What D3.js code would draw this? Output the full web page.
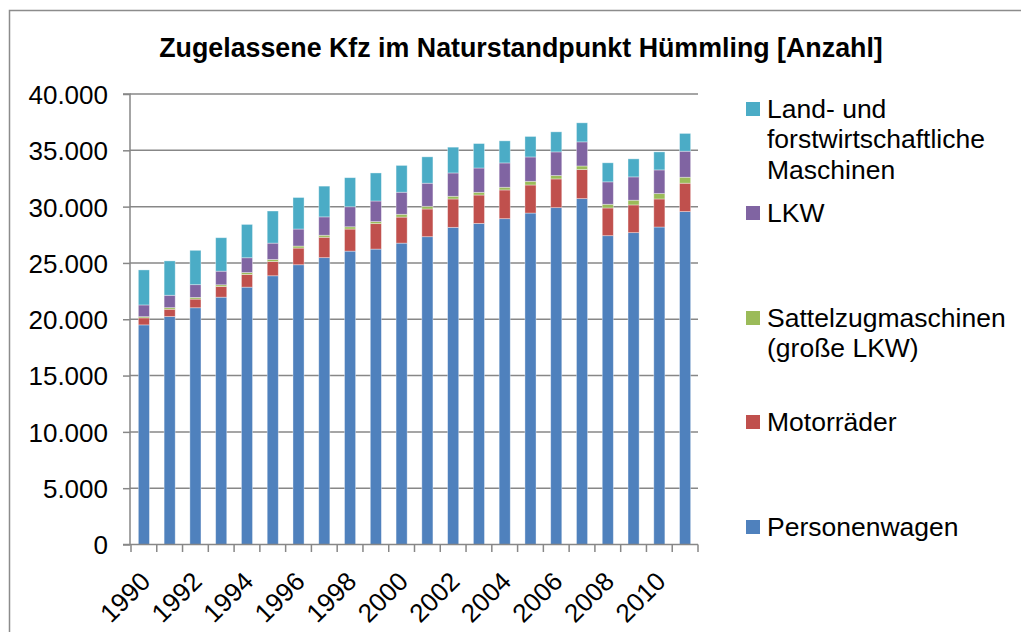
<!DOCTYPE html>
<html>
<head>
<meta charset="utf-8">
<script src="https://cdn.jsdelivr.net/npm/d3@7"></script>
<style>
  body { margin: 0; background: #fff; }
  text { font-family: "Liberation Sans", Arial, sans-serif; fill: #000; }
</style>
</head>
<body>
<svg id="chart"></svg>
<script>
var width = 1021, height = 632;

// data
var years = d3.range(1990, 2012).map(String);
var pkw    = [19500, 20240, 21020, 21960, 22850, 23860, 24840, 25470, 26050, 26230, 26760, 27330, 28160, 28510, 28930, 29430, 29910, 30710, 27420, 27690, 28190, 29560];
var motor  = [620, 650, 770, 950, 1130, 1270, 1480, 1810, 1960, 2260, 2310, 2460, 2520, 2520, 2550, 2490, 2550, 2580, 2460, 2460, 2490, 2520];
var sattel = [110, 140, 150, 150, 170, 180, 180, 180, 200, 180, 250, 240, 240, 240, 240, 330, 300, 320, 330, 420, 480, 530];
var lkw    = [1040, 1100, 1130, 1210, 1310, 1450, 1510, 1630, 1780, 1830, 1960, 2050, 2070, 2160, 2160, 2160, 2100, 2140, 1990, 2070, 2100, 2310];
var land   = [3110, 3050, 3050, 2970, 2960, 2850, 2800, 2730, 2580, 2490, 2380, 2340, 2290, 2170, 1960, 1820, 1780, 1690, 1690, 1600, 1600, 1580];
var yTicks = d3.range(0, 40001, 5000);
var xLabels = years.filter(function(d, i) { return i % 2 == 0; });

var series = [
  {key: "pkw",    name: ["Personenwagen"], values: pkw,    color: "#4F81BD"},
  {key: "motor",  name: ["Motorräder"], values: motor,  color: "#C0504D"},
  {key: "sattel", name: ["Sattelzugmaschinen", "(große LKW)"], values: sattel, color: "#9BBB59"},
  {key: "lkw",    name: ["LKW"], values: lkw,    color: "#8064A2"},
  {key: "land",   name: ["Land- und", "forstwirtschaftliche", "Maschinen"], values: land, color: "#4BACC6"}
];

var table = years.map(function(y, i) {
  var row = {year: y};
  series.forEach(function(s) { row[s.key] = s.values[i]; });
  return row;
});

var svg = d3.select("#chart").attr("width", width).attr("height", height);

// outer frame
svg.append("rect")
    .attr("x", 9.5).attr("y", 10.5)
    .attr("width", 1100).attr("height", 1000)
    .attr("fill", "none")
    .attr("stroke", "#8c8c8c")
    .attr("stroke-width", 1.5);

svg.append("text")
    .attr("x", 521).attr("y", 57)
    .attr("text-anchor", "middle")
    .style("font-size", "26.8px")
    .style("font-weight", "bold")
    .text("Zugelassene Kfz im Naturstandpunkt Hümmling [Anzahl]");

var x = d3.scaleBand().domain(years).range([131, 698]).paddingInner(0.57).paddingOuter(0.285);
var y = d3.scaleLinear().domain([0, 40000]).range([544.5, 94]);

// gridlines
svg.append("g").selectAll("line").data(yTicks.slice(1)).join("line")
    .attr("x1", 130).attr("x2", 698)
    .attr("y1", function(d) { return y(d); }).attr("y2", function(d) { return y(d); })
    .attr("stroke", "#878787").attr("stroke-width", 1.5);

// bars
var stack = d3.stack().keys(series.map(function(s) { return s.key; }));
var layers = stack(table);
svg.append("g").selectAll("g").data(layers).join("g")
    .attr("fill", function(d, i) { return series[i].color; })
  .selectAll("rect").data(function(d) { return d; }).join("rect")
    .attr("x", function(d) { return x(d.data.year); })
    .attr("width", x.bandwidth())
    .attr("y", function(d) { return y(d[1]); })
    .attr("height", function(d) { return y(d[0]) - y(d[1]); })
    .attr("stroke", "rgba(255,255,255,0.45)")
    .attr("stroke-width", 0.8);

// y axis
var yAxis = d3.axisLeft(y).tickValues(yTicks).tickSize(7).tickPadding(15)
    .tickFormat(function(d) { return d == 0 ? "0" : d3.format(",")(d).replace(/,/g, "."); });
var gy = svg.append("g").attr("transform", "translate(130,0)").call(yAxis);
gy.select(".domain").attr("stroke", "#878787").attr("stroke-width", 1.5).attr("d", "M-7,94H0V544.5H-7");
gy.selectAll(".tick line").attr("stroke", "#878787").attr("stroke-width", 1.5);
gy.selectAll(".tick text").style("font-size", "26px").style("font-family", "Liberation Sans, Arial, sans-serif").attr("dy", "0.36em");

// x axis line and ticks at band boundaries
var gx = svg.append("g");
gx.append("line").attr("x1", 130).attr("x2", 698).attr("y1", 544.5).attr("y2", 544.5)
    .attr("stroke", "#878787").attr("stroke-width", 1.5);
var step = x.step();
gx.selectAll("line.tk").data(d3.range(years.length + 1)).join("line").attr("class", "tk")
    .attr("x1", function(i) { return 131 + i * step; })
    .attr("x2", function(i) { return 131 + i * step; })
    .attr("y1", 544.5).attr("y2", 552)
    .attr("stroke", "#878787").attr("stroke-width", 1.5);
gx.selectAll("text").data(xLabels).join("text")
    .attr("transform", function(d) {
      return "translate(" + (x(d) + x.bandwidth() / 2 + 8) + ",583) rotate(-45)";
    })
    .attr("text-anchor", "end")
    .style("font-size", "26px")
    .text(function(d) { return d; });

// legend
var legendTop = {land: 109, lkw: 213, sattel: 318, motor: 422, pkw: 527};
var lg = svg.append("g");
series.forEach(function(s) {
  var cy = legendTop[s.key];
  lg.append("rect").attr("x", 746).attr("y", cy - 7).attr("width", 14).attr("height", 14).attr("fill", s.color);
  s.name.forEach(function(line, j) {
    lg.append("text").attr("x", 767).attr("y", cy + 8.5 + j * 30.6)
      .style("font-size", "26.5px").text(line);
  });
});
</script>
</body>
</html>
